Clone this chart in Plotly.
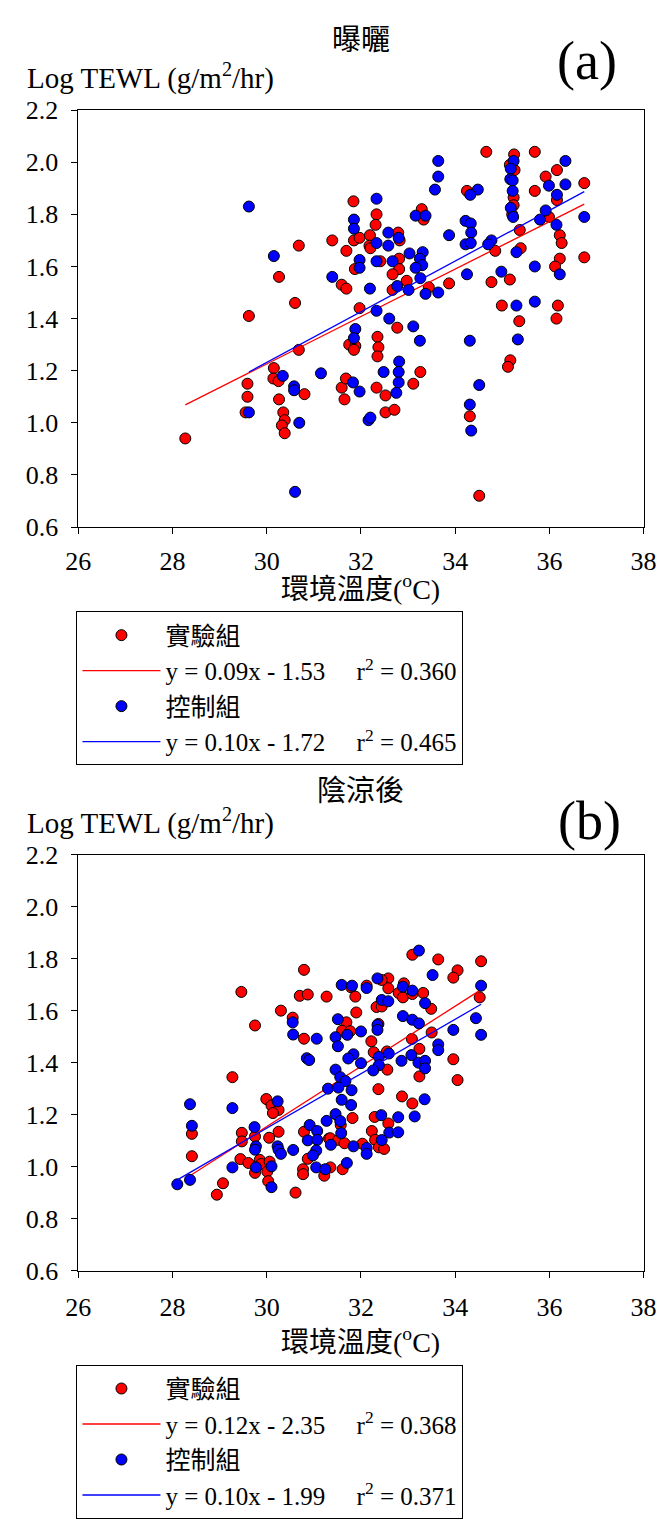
import plotly.graph_objects as go

# ---------------- data ----------------
# Panel (a) 曝曬 — 實驗組 (red)
a_exp_T = [28.27, 29.59, 29.59, 29.55, 29.62, 30.15, 30.14, 30.25, 30.26, 30.35, 30.38, 30.32, 30.38,
           30.26, 30.60, 30.68, 30.68, 30.80, 31.39, 31.59, 31.68, 31.65, 31.69, 31.85, 31.84, 31.97,
           32.19, 32.18, 32.20, 32.33, 32.31, 31.59, 31.69, 31.87, 31.97, 31.75, 31.88, 31.85, 32.35,
           32.37, 32.35, 32.33, 33.29, 33.33, 32.79, 32.82, 32.81, 32.81, 32.41, 32.67, 32.97, 32.67,
           33.44, 33.87, 34.77, 35.16, 34.66, 35.25, 35.69, 35.16, 35.26, 36.16, 35.92, 36.74, 35.69,
           34.25, 36.16, 35.24, 35.24, 35.21, 35.99, 35.37, 36.22, 36.26, 35.39, 34.85, 36.22, 36.74,
           36.12, 32.77, 34.99, 35.36, 36.18, 36.15, 35.17, 35.12, 33.26, 33.11, 32.52, 32.52, 32.71,
           34.31, 34.51]
a_exp_V = [0.94, 1.15, 1.10, 1.04, 1.41, 1.21, 1.17, 1.16, 1.09, 1.04, 1.01, 0.99, 0.96,
           1.56, 1.46, 1.68, 1.28, 1.11, 1.70, 1.135, 1.17, 1.09, 1.66, 1.70, 1.85, 1.71,
           1.72, 1.68, 1.67, 1.80, 1.76, 1.53, 1.515, 1.59, 1.44, 1.30, 1.295, 1.28, 1.33,
           1.29, 1.255, 1.135, 1.82, 1.78, 1.73, 1.70, 1.63, 1.59, 1.62, 1.57, 1.545, 1.51,
           1.52, 1.535, 1.54, 1.55, 2.04, 2.03, 2.04, 1.99, 1.97, 1.97, 1.945, 1.92, 1.89,
           1.89, 1.855, 1.865, 1.835, 1.80, 1.79, 1.74, 1.72, 1.69, 1.67, 1.66, 1.63, 1.635,
           1.60, 1.365, 1.45, 1.39, 1.45, 1.40, 1.24, 1.215, 1.195, 1.15, 1.105, 1.04, 1.05,
           1.025, 0.72]
# Panel (a) 曝曬 — 控制組 (blue)
a_ctl_T = [29.62, 30.15, 31.39, 32.19, 31.85, 31.85, 32.33, 31.97, 31.97, 32.33, 32.33, 32.33, 31.88,
           31.85, 30.34, 30.58, 30.58, 29.62, 30.69, 31.15, 31.83, 31.97, 32.16, 32.20, 30.60, 33.64,
           33.64, 33.57, 36.34, 35.24, 35.18, 35.17, 35.22, 35.22, 34.48, 34.32, 36.34, 35.99, 36.16,
           35.18, 35.23, 35.92, 35.80, 36.74, 33.16, 33.37, 34.22, 34.33, 34.34, 34.22, 34.33, 36.15,
           33.87, 32.58, 32.80, 32.58, 34.77, 34.70, 35.30, 33.03, 33.31, 33.25, 33.30, 33.16, 32.67,
           33.26, 32.77, 33.01, 33.37, 33.64, 34.25, 34.98, 35.69, 36.22, 32.60, 33.11, 33.25, 34.31,
           35.30, 35.69, 35.33, 32.81, 32.48, 32.80, 32.80, 32.75, 34.51, 34.31, 34.34]
a_ctl_V = [1.83, 1.64, 1.56, 1.515, 1.78, 1.745, 1.86, 1.625, 1.595, 1.69, 1.62, 1.43, 1.36,
           1.325, 1.18, 1.14, 1.125, 1.04, 1.00, 1.19, 1.155, 1.12, 1.01, 1.02, 0.735, 2.005,
           1.945, 1.895, 2.005, 2.005, 1.975, 1.935, 1.93, 1.89, 1.895, 1.875, 1.915, 1.91, 1.875,
           1.825, 1.79, 1.815, 1.78, 1.79, 1.795, 1.795, 1.775, 1.765, 1.73, 1.685, 1.69, 1.76,
           1.72, 1.73, 1.71, 1.68, 1.70, 1.685, 1.655, 1.65, 1.655, 1.63, 1.605, 1.595, 1.62,
           1.555, 1.525, 1.51, 1.495, 1.50, 1.57, 1.58, 1.60, 1.57, 1.40, 1.37, 1.315, 1.315,
           1.45, 1.465, 1.32, 1.235, 1.195, 1.195, 1.155, 1.115, 1.145, 1.07, 0.97]

# Panel (b) 陰涼後 — 實驗組 (red)
b_exp_T = [30.79, 29.46, 30.70, 30.87, 31.27, 30.30, 30.55, 29.75, 30.79, 29.27, 29.99, 30.10, 30.25,
           30.13, 28.41, 28.41, 29.07, 28.94, 29.47, 29.47, 29.75, 30.25, 30.05, 29.44, 29.61, 29.85,
           29.88, 30.06, 29.75, 30.01, 30.03, 30.61, 30.79, 30.87, 30.77, 30.77, 31.22, 31.32, 33.09,
           33.64, 34.55, 34.05, 33.96, 32.58, 32.44, 32.58, 32.91, 32.80, 32.89, 33.09, 33.32, 32.12,
           31.79, 31.88, 32.33, 32.44, 33.49, 34.52, 31.90, 31.69, 31.60, 31.77, 32.37, 32.22, 32.27,
           32.55, 32.56, 33.08, 33.50, 33.24, 33.24, 33.96, 34.05, 32.37, 32.87, 33.09, 32.29, 31.82,
           31.57, 32.58, 32.23, 31.35, 31.52, 31.65, 32.03, 32.30, 32.38, 32.49, 31.35, 31.61]
b_exp_V = [1.757, 1.672, 1.657, 1.662, 1.654, 1.60, 1.573, 1.543, 1.492, 1.344, 1.26, 1.235, 1.218,
           1.206, 1.126, 1.04, 0.936, 0.892, 1.13, 1.097, 1.116, 1.134, 1.111, 1.029, 1.014, 1.026,
           1.01, 1.019, 0.976, 0.981, 0.944, 0.90, 1.134, 1.03, 0.99, 0.971, 0.965, 1.108, 1.815,
           1.797, 1.79, 1.755, 1.727, 1.724, 1.718, 1.686, 1.705, 1.668, 1.651, 1.664, 1.668, 1.696,
           1.69, 1.654, 1.614, 1.616, 1.607, 1.651, 1.593, 1.555, 1.523, 1.521, 1.549, 1.482, 1.44,
           1.443, 1.373, 1.491, 1.516, 1.453, 1.347, 1.413, 1.333, 1.298, 1.27, 1.243, 1.191, 1.187,
           1.16, 1.166, 1.137, 1.109, 1.103, 1.09, 1.088, 1.103, 1.074, 1.068, 0.997, 0.99]
# Panel (b) 陰涼後 — 控制組 (blue)
b_ctl_T = [30.55, 30.56, 31.06, 30.85, 30.90, 28.37, 29.27, 30.23, 28.41, 29.74, 29.77, 29.75, 30.23,
           30.25, 30.30, 30.56, 29.27, 29.77, 30.10, 30.10, 28.37, 28.10, 31.30, 30.91, 31.07, 31.27,
           30.87, 31.07, 31.05, 30.98, 31.05, 31.24, 33.23, 33.52, 34.55, 32.35, 31.59, 31.81, 32.12,
           32.89, 33.09, 32.44, 32.58, 33.36, 32.89, 33.09, 33.23, 34.44, 34.55, 33.96, 33.64, 33.64,
           31.51, 31.46, 31.71, 31.51, 32.00, 32.35, 32.35, 31.84, 31.73, 32.00, 32.38, 32.59, 32.38,
           32.26, 32.86, 33.07, 33.22, 33.36, 33.36, 31.46, 31.56, 31.67, 31.52, 31.80, 31.59, 31.79,
           33.35, 33.14, 32.43, 32.79, 31.46, 31.56, 31.58, 32.60, 32.79, 32.44, 31.36, 31.84, 32.12,
           32.12, 31.70]
b_ctl_V = [1.555, 1.508, 1.492, 1.417, 1.41, 1.24, 1.225, 1.251, 1.157, 1.152, 1.078, 1.065, 1.078,
           1.065, 1.049, 1.064, 0.997, 0.997, 1.001, 0.921, 0.949, 0.932, 1.30, 1.16, 1.137, 1.176,
           1.101, 1.103, 1.062, 1.043, 0.997, 0.99, 1.831, 1.737, 1.696, 1.724, 1.699, 1.696, 1.687,
           1.692, 1.677, 1.641, 1.636, 1.629, 1.579, 1.565, 1.551, 1.571, 1.507, 1.526, 1.47, 1.448,
           1.567, 1.498, 1.507, 1.463, 1.52, 1.545, 1.526, 1.432, 1.416, 1.398, 1.422, 1.435, 1.39,
           1.37, 1.407, 1.429, 1.40, 1.407, 1.378, 1.373, 1.344, 1.329, 1.304, 1.294, 1.257, 1.237,
           1.259, 1.193, 1.198, 1.19, 1.202, 1.175, 1.129, 1.131, 1.132, 1.102, 1.084, 1.078, 1.072,
           1.049, 1.014]

# regression lines as drawn (slope, intercept)
a_exp_fit = (0.091, -1.504)
a_ctl_fit = (0.0972, -1.684)
b_exp_fit = (0.1158, -2.320)
b_ctl_fit = (0.1047, -1.993)

a_exp_label = "y = 0.09x - 1.53 \u00a0\u00a0\u00a0\u00a0r<sup>2</sup> = 0.360"
a_ctl_label = "y = 0.10x - 1.72 \u00a0\u00a0\u00a0\u00a0r<sup>2</sup> = 0.465"
b_exp_label = "y = 0.12x - 2.35 \u00a0\u00a0\u00a0\u00a0r<sup>2</sup> = 0.368"
b_ctl_label = "y = 0.10x - 1.99 \u00a0\u00a0\u00a0\u00a0r<sup>2</sup> = 0.371"
group_names = ["實驗組", "控制組"]
x_ticks = [26, 28, 30, 32, 34, 36, 38]
y_ticks = [0.6, 0.8, 1.0, 1.2, 1.4, 1.6, 1.8, 2.0, 2.2]

# ---------------- figure ----------------
W, H = 672, 1522
FONT = "Liberation Serif, 'Noto Sans CJK TC', serif"
RED, BLUE = "#FF0000", "#0000FF"


def px(x):
    return x / W


def py(y):
    return 1 - y / H


def fit_line(T, fit):
    x0, x1 = min(T), max(T)
    return [x0, x1], [fit[0] * x0 + fit[1], fit[0] * x1 + fit[1]]


fig = go.Figure()

panels = [
    ("x", "y", "legend", a_exp_T, a_exp_V, a_ctl_T, a_ctl_V, a_exp_fit, a_ctl_fit, a_exp_label, a_ctl_label),
    ("x2", "y2", "legend2", b_exp_T, b_exp_V, b_ctl_T, b_ctl_V, b_exp_fit, b_ctl_fit, b_exp_label, b_ctl_label),
]
for xa, ya, lg, eT, eV, cT, cV, efit, cfit, elab, clab in panels:
    mk = dict(size=11, line=dict(color="black", width=1))
    fig.add_trace(go.Scatter(x=eT, y=eV, mode="markers", name=group_names[0], xaxis=xa, yaxis=ya,
                             legend=lg, marker=dict(color=RED, **mk)))
    lx, ly = fit_line(eT, efit)
    fig.add_trace(go.Scatter(x=lx, y=ly, mode="lines", name=elab, xaxis=xa, yaxis=ya, legend=lg,
                             line=dict(color=RED, width=1.3)))
    fig.add_trace(go.Scatter(x=cT, y=cV, mode="markers", name=group_names[1], xaxis=xa, yaxis=ya,
                             legend=lg, marker=dict(color=BLUE, **mk)))
    lx, ly = fit_line(cT, cfit)
    fig.add_trace(go.Scatter(x=lx, y=ly, mode="lines", name=clab, xaxis=xa, yaxis=ya, legend=lg,
                             line=dict(color=BLUE, width=1.3)))

axis_common = dict(showline=True, linecolor="black", linewidth=1, mirror=True, ticks="outside",
                   ticklen=6, tickcolor="black", tickwidth=1, showgrid=False, zeroline=False,
                   tickfont=dict(family=FONT, size=26, color="black"))
xdom = [px(68), px(656)]
fig.update_layout(
    xaxis=dict(domain=xdom, anchor="y", range=[26, 38], tickvals=x_ticks, ticklabelstandoff=5, **axis_common),
    yaxis=dict(domain=[py(523), py(98)], anchor="x", range=[0.6, 2.2], tickvals=y_ticks,
               tickformat=".1f", ticklabelstandoff=8, **axis_common),
    xaxis2=dict(domain=xdom, anchor="y2", range=[26, 38], tickvals=x_ticks, ticklabelstandoff=7, **axis_common),
    yaxis2=dict(domain=[py(1281), py(857)], anchor="x2", range=[0.6, 2.2], tickvals=y_ticks,
                tickformat=".1f", ticklabelstandoff=8, **axis_common),
)

leg_common = dict(xanchor="left", yanchor="top", bgcolor="white", bordercolor="black", borderwidth=1,
                  font=dict(family=FONT, size=25, color="black"), itemwidth=78, traceorder="normal")
fig.update_layout(
    legend=dict(x=px(66), y=py(609), **leg_common),
    legend2=dict(x=px(66), y=py(1377), **leg_common),
)


def ann(text, x, y, size, xanchor="center"):
    fig.add_annotation(text=text, x=px(x), y=py(y), xref="paper", yref="paper", showarrow=False,
                       xanchor=xanchor, yanchor="middle", font=dict(family=FONT, size=size, color="black"))


# panel (a) texts
ann("曝曬", 362, 26, 29)
ann("Log TEWL (g/m<sup>2</sup>/hr)", 13, 64, 29, xanchor="left")
ann("(a)", 597, 48, 54)
ann("環境溫度(<sup>o</sup>C)", 362, 585, 28)
# panel (b) texts
ann("陰涼後", 362, 792, 29)
ann("Log TEWL (g/m<sup>2</sup>/hr)", 13, 823, 29, xanchor="left")
ann("(b)", 600, 823, 54)
ann("環境溫度(<sup>o</sup>C)", 362, 1352, 28)

fig.update_layout(width=W, height=H, margin=dict(l=0, r=0, t=0, b=0), paper_bgcolor="white",
                  plot_bgcolor="white", showlegend=True)
fig.write_html("out.html", post_script="document.body.style.margin='0';",
               config={"displayModeBar": False})
